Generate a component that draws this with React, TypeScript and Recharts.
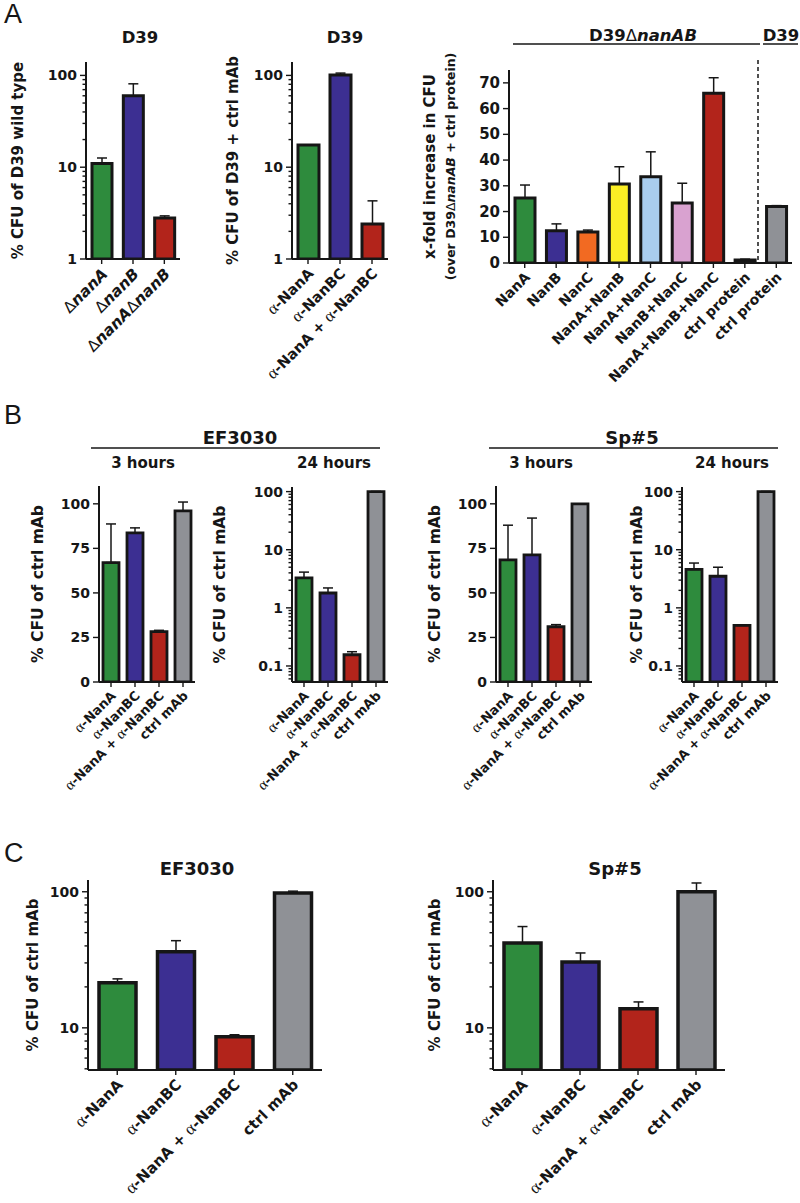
import React from "react";
import { BarChart, Bar, XAxis, YAxis, Cell, ErrorBar } from "recharts";

const FONT = "'DejaVu Sans', 'Liberation Sans', sans-serif";
const SERIF = "'Liberation Serif', 'DejaVu Serif', serif";
const INK = "#161616";

const GREEN = "#2e8b3d";
const BLUE = "#3c2f92";
const RED = "#b2241b";
const GRAY = "#8f9196";
const ORANGE = "#f26a22";
const YELLOW = "#fbee25";
const LIGHTBLUE = "#a9cdee";
const PINK = "#d9a2d0";

// ---------- Panel A ----------
const a1Categories = ["ΔnanA", "ΔnanB", "ΔnanAΔnanB"];
const a1Values = [11, 60, 2.8];
const a1ErrorsUp = [1.6, 21, 0.15];
const a1Colors = [GREEN, BLUE, RED];

const a2Categories = ["α-NanA", "α-NanBC", "α-NanA + α-NanBC"];
const a2Values = [17.5, 101, 2.4];
const a2ErrorsUp = [0, 5, 1.9];
const a2Colors = [GREEN, BLUE, RED];

const a3Categories = [
  "NanA",
  "NanB",
  "NanC",
  "NanA+NanB",
  "NanA+NanC",
  "NanB+NanC",
  "NanA+NanB+NanC",
  "ctrl protein",
  "ctrl protein",
];
const a3Values = [25.3, 12.5, 12, 30.7, 33.5, 23.3, 66, 1.2, 22];
const a3ErrorsUp = [5, 2.7, 0.8, 6.7, 9.7, 7.7, 6, 0.3, 0.3];
const a3Colors = [GREEN, BLUE, ORANGE, YELLOW, LIGHTBLUE, PINK, RED, GRAY, GRAY];

// ---------- Panel B / C ----------
const abCategories = ["α-NanA", "α-NanBC", "α-NanA + α-NanBC", "ctrl mAb"];
const abColors = [GREEN, BLUE, RED, GRAY];

const b1Values = [67, 83.7, 28.3, 96];
const b1ErrorsUp = [21.7, 2.8, 0.7, 5];
const b2Values = [3.27, 1.8, 0.156, 100];
const b2ErrorsUp = [0.85, 0.4, 0.02, 0];
const b3Values = [68.5, 71.3, 31, 100];
const b3ErrorsUp = [19.5, 20.7, 1.2, 0];
const b4Values = [4.6, 3.5, 0.5, 100];
const b4ErrorsUp = [1.3, 1.5, 0, 0];

const c1Values = [21.4, 36.2, 8.6, 98];
const c1ErrorsUp = [1.5, 7.5, 0.3, 3];
const c2Values = [42, 30.5, 13.8, 100];
const c2ErrorsUp = [13.5, 5, 1.7, 16];

// tick values
const logMajor1to100 = [1, 10, 100];
const logMinor1to100 = [2, 3, 4, 5, 6, 7, 8, 9, 20, 30, 40, 50, 60, 70, 80, 90];
const a3Ticks = [0, 10, 20, 30, 40, 50, 60, 70];
const linTicks100 = [0, 25, 50, 75, 100];
const logMajorB = [0.1, 1, 10, 100];
const logMinorB = [0.06, 0.07, 0.08, 0.09, 0.2, 0.3, 0.4, 0.5, 0.6, 0.7, 0.8, 0.9, 2, 3, 4, 5, 6, 7, 8, 9, 20, 30, 40, 50, 60, 70, 80, 90];
const logMajorC = [10, 100];
const logMinorC = [5, 6, 7, 8, 9, 20, 30, 40, 50, 60, 70, 80, 90];

function segments(text: string) {
  const parts = text.split(/(Δ|α|nan[A-Z]+)/).filter((s) => s.length > 0);
  return parts.map((s, i) => {
    if (s === "α")
      return (
        <tspan key={i} fontFamily={SERIF} fontWeight="normal" fontSize="1.15em">
          α
        </tspan>
      );
    if (s === "Δ")
      return (
        <tspan key={i} fontWeight="normal">
          Δ
        </tspan>
      );
    if (/^nan[A-Z]+$/.test(s))
      return (
        <tspan key={i} fontStyle="italic">
          {s}
        </tspan>
      );
    return <tspan key={i}>{s}</tspan>;
  });
}

type PanelProps = {
  divLeft: number;
  divTop: number;
  plotLeft: number;
  plotTop: number;
  plotWidth: number;
  plotHeight: number;
  categories: string[];
  values: number[];
  errors: number[];
  colors: string[];
  log?: boolean;
  domain: [number, number];
  majorTicks: number[];
  minorTicks?: number[];
  tickFontSize: number;
  xFontSize: number;
  barSize: number;
  barStroke: number;
  yLabelX: number;
  yLabel: string;
  yLabelSize: number;
  yLabel2?: string;
  yLabel2X?: number;
};

function Panel(p: PanelProps) {
  const ML = p.plotLeft - p.divLeft;
  const MT = p.plotTop - p.divTop;
  const MB = 160;
  const MR = 10;
  const W = ML + p.plotWidth + MR;
  const H = MT + p.plotHeight + MB;
  const data = p.categories.map((c, i) => ({
    name: c,
    value: p.values[i],
    err: [0, p.errors[i]],
  }));
  const ticks = [...p.majorTicks, ...(p.minorTicks || [])].sort((a, b) => a - b);
  const isMajor = (v: number) => p.majorTicks.some((m) => Math.abs(m - v) < 1e-9);

  const yTick = (props: any) => {
    const { x, y, payload } = props;
    const v = payload.value;
    const major = isMajor(v);
    const len = major ? 6 : 3.5;
    return (
      <g>
        <line x1={x} x2={x - len} y1={y} y2={y} stroke={INK} strokeWidth={1.4} />
        {major && (
          <text
            x={x - len - 3}
            y={y}
            textAnchor="end"
            dominantBaseline="central"
            fontFamily={FONT}
            fontWeight="bold"
            fontSize={p.tickFontSize}
            fill={INK}
          >
            {String(v)}
          </text>
        )}
      </g>
    );
  };

  const xTick = (props: any) => {
    const { x, y, payload } = props;
    return (
      <g transform={`translate(${x},${y})`}>
        <text
          transform="rotate(-45)"
          textAnchor="end"
          dy="0.72em"
          dx="-0.1em"
          fontFamily={FONT}
          fontWeight="bold"
          fontSize={p.xFontSize}
          fill={INK}
        >
          {segments(String(payload.value))}
        </text>
      </g>
    );
  };

  const yLabel = () => {
    const cx = p.yLabelX - p.divLeft;
    const cy = MT + p.plotHeight / 2;
    const cx2 = (p.yLabel2X || 0) - p.divLeft;
    return (
      <g>
        <text
          x={cx}
          y={cy}
          transform={`rotate(-90 ${cx} ${cy})`}
          textAnchor="middle"
          dominantBaseline="central"
          fontFamily={FONT}
          fontWeight="bold"
          fontSize={p.yLabelSize}
          fill={INK}
        >
          {segments(p.yLabel)}
        </text>
        {p.yLabel2 && (
          <text
            x={cx2}
            y={cy}
            transform={`rotate(-90 ${cx2} ${cy})`}
            textAnchor="middle"
            dominantBaseline="central"
            fontFamily={FONT}
            fontWeight="bold"
            fontSize={12.5}
            fill={INK}
          >
            {segments(p.yLabel2)}
          </text>
        )}
      </g>
    );
  };

  return (
    <div style={{ position: "absolute", left: p.divLeft, top: p.divTop }}>
      <BarChart width={W} height={H} data={data} margin={{ top: MT, right: MR, bottom: 0, left: 0 }}>
        <XAxis
          dataKey="name"
          type="category"
          height={MB}
          interval={0}
          tickSize={5}
          tickMargin={2}
          axisLine={{ stroke: INK, strokeWidth: 2 }}
          tickLine={{ stroke: INK, strokeWidth: 1.4 }}
          tick={xTick}
        />
        <YAxis
          type="number"
          scale={p.log ? "log" : "linear"}
          domain={p.domain}
          allowDataOverflow
          ticks={ticks}
          interval={0}
          width={ML}
          tickSize={0}
          tickMargin={0}
          tickLine={false}
          axisLine={{ stroke: INK, strokeWidth: 2 }}
          tick={yTick}
          label={yLabel}
        />
        <Bar dataKey="value" barSize={p.barSize} stroke={INK} strokeWidth={p.barStroke} isAnimationActive={false}>
          {data.map((d, i) => (
            <Cell key={i} fill={p.colors[i]} />
          ))}
          <ErrorBar dataKey="err" direction="y" width={5} stroke={INK} strokeWidth={1.5} />
        </Bar>
      </BarChart>
    </div>
  );
}

function Overlay() {
  const t = { fontFamily: FONT, fontWeight: "bold" as const, fill: INK };
  const big = { fontFamily: "'Liberation Sans', sans-serif", fontSize: 27, fill: INK };
  return (
    <svg
      width={800}
      height={1203}
      style={{ position: "absolute", left: 0, top: 0, pointerEvents: "none" }}
    >
      <text x={4} y={23} {...big}>A</text>
      <text x={4} y={424} {...big}>B</text>
      <text x={4} y={862} {...big}>C</text>

      <text x={140} y={43} textAnchor="middle" fontSize={16.5} {...t}>D39</text>
      <text x={345} y={43} textAnchor="middle" fontSize={16.5} {...t}>D39</text>
      <text x={643} y={41} textAnchor="middle" fontSize={16.5} {...t}>
        {segments("D39ΔnanAB")}
      </text>
      <line x1={513} x2={760} y1={44} y2={44} stroke={INK} strokeWidth={1.5} />
      <text x={781} y={41} textAnchor="middle" fontSize={16.5} {...t}>D39</text>
      <line x1={763} x2={798} y1={44} y2={44} stroke={INK} strokeWidth={1.5} />
      <line x1={758} x2={758} y1={60} y2={263} stroke={INK} strokeWidth={1.5} strokeDasharray="4 3" />

      <text x={240} y={444} textAnchor="middle" fontSize={18} {...t}>EF3030</text>
      <line x1={91} x2={380} y1={448} y2={448} stroke={INK} strokeWidth={1.5} />
      <text x={143} y={468} textAnchor="middle" fontSize={15} {...t}>3 hours</text>
      <text x={334} y={468} textAnchor="middle" fontSize={15} {...t}>24 hours</text>

      <text x={632} y={444} textAnchor="middle" fontSize={18} {...t}>Sp#5</text>
      <line x1={489} x2={778} y1={448} y2={448} stroke={INK} strokeWidth={1.5} />
      <text x={541} y={468} textAnchor="middle" fontSize={15} {...t}>3 hours</text>
      <text x={732} y={468} textAnchor="middle" fontSize={15} {...t}>24 hours</text>

      <text x={197} y={875} textAnchor="middle" fontSize={18} {...t}>EF3030</text>
      <text x={615} y={875} textAnchor="middle" fontSize={18} {...t}>Sp#5</text>
    </svg>
  );
}

export default function App() {
  return (
    <div
      style={{
        position: "absolute",
        left: 0,
        top: 0,
        width: 800,
        height: 1203,
        background: "#fff",
        overflow: "hidden",
      }}
    >
      <Panel
        divLeft={0} divTop={0} plotLeft={86} plotTop={62} plotWidth={94} plotHeight={197}
        categories={a1Categories} values={a1Values} errors={a1ErrorsUp} colors={a1Colors}
        log domain={[1, 140]} majorTicks={logMajor1to100} minorTicks={logMinor1to100}
        tickFontSize={14} xFontSize={15.5} barSize={20} barStroke={3}
        yLabelX={18} yLabel="% CFU of D39 wild type" yLabelSize={15}
      />
      <Panel
        divLeft={200} divTop={0} plotLeft={292} plotTop={62} plotWidth={96} plotHeight={197}
        categories={a2Categories} values={a2Values} errors={a2ErrorsUp} colors={a2Colors}
        log domain={[1, 140]} majorTicks={logMajor1to100} minorTicks={logMinor1to100}
        tickFontSize={14} xFontSize={14.5} barSize={21} barStroke={3}
        yLabelX={233} yLabel="% CFU of D39 + ctrl mAb" yLabelSize={15}
      />
      <Panel
        divLeft={400} divTop={0} plotLeft={509} plotTop={70} plotWidth={283} plotHeight={193}
        categories={a3Categories} values={a3Values} errors={a3ErrorsUp} colors={a3Colors}
        domain={[0, 75]} majorTicks={a3Ticks}
        tickFontSize={15} xFontSize={14} barSize={20} barStroke={3}
        yLabelX={430} yLabel="x-fold increase in CFU" yLabelSize={15}
        yLabel2="(over D39ΔnanAB + ctrl protein)" yLabel2X={450}
      />

      <Panel
        divLeft={0} divTop={470} plotLeft={99} plotTop={486} plotWidth={96} plotHeight={196}
        categories={abCategories} values={b1Values} errors={b1ErrorsUp} colors={abColors}
        domain={[0, 110]} majorTicks={linTicks100}
        tickFontSize={14} xFontSize={13} barSize={16} barStroke={2.8}
        yLabelX={38} yLabel="% CFU of ctrl mAb" yLabelSize={15.5}
      />
      <Panel
        divLeft={200} divTop={470} plotLeft={292} plotTop={487} plotWidth={96} plotHeight={195}
        categories={abCategories} values={b2Values} errors={b2ErrorsUp} colors={abColors}
        log domain={[0.053, 120]} majorTicks={logMajorB} minorTicks={logMinorB}
        tickFontSize={14} xFontSize={13} barSize={16} barStroke={2.8}
        yLabelX={220} yLabel="% CFU of ctrl mAb" yLabelSize={15.5}
      />
      <Panel
        divLeft={400} divTop={470} plotLeft={496} plotTop={486} plotWidth={96} plotHeight={196}
        categories={abCategories} values={b3Values} errors={b3ErrorsUp} colors={abColors}
        domain={[0, 110]} majorTicks={linTicks100}
        tickFontSize={14} xFontSize={13} barSize={16} barStroke={2.8}
        yLabelX={435} yLabel="% CFU of ctrl mAb" yLabelSize={15.5}
      />
      <Panel
        divLeft={600} divTop={470} plotLeft={682} plotTop={487} plotWidth={96} plotHeight={195}
        categories={abCategories} values={b4Values} errors={b4ErrorsUp} colors={abColors}
        log domain={[0.053, 120]} majorTicks={logMajorB} minorTicks={logMinorB}
        tickFontSize={14} xFontSize={13} barSize={16} barStroke={2.8}
        yLabelX={637} yLabel="% CFU of ctrl mAb" yLabelSize={15.5}
      />

      <Panel
        divLeft={0} divTop={860} plotLeft={88} plotTop={880} plotWidth={234} plotHeight={190}
        categories={abCategories} values={c1Values} errors={c1ErrorsUp} colors={abColors}
        log domain={[4.9, 122]} majorTicks={logMajorC} minorTicks={logMinorC}
        tickFontSize={14} xFontSize={15} barSize={37} barStroke={3.5}
        yLabelX={33} yLabel="% CFU of ctrl mAb" yLabelSize={15}
      />
      <Panel
        divLeft={400} divTop={860} plotLeft={493} plotTop={880} plotWidth={232} plotHeight={190}
        categories={abCategories} values={c2Values} errors={c2ErrorsUp} colors={abColors}
        log domain={[4.9, 122]} majorTicks={logMajorC} minorTicks={logMinorC}
        tickFontSize={14} xFontSize={15} barSize={37} barStroke={3.5}
        yLabelX={435} yLabel="% CFU of ctrl mAb" yLabelSize={15}
      />
      <Overlay />
    </div>
  );
}
